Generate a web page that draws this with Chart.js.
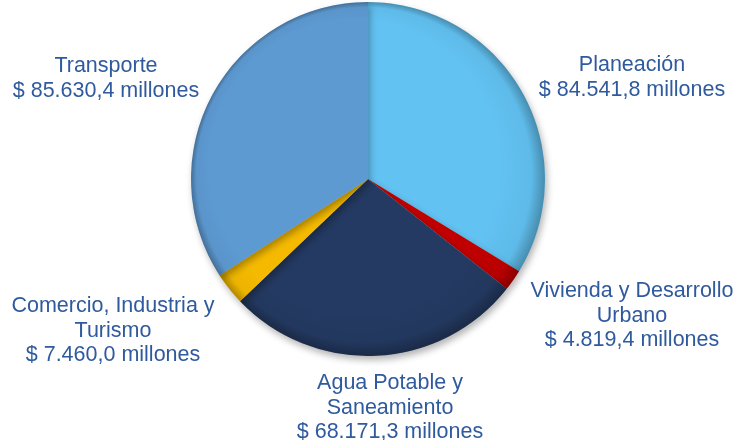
<!DOCTYPE html>
<html>
<head>
<meta charset="utf-8">
<script src="https://cdn.jsdelivr.net/npm/chart.js@4/dist/chart.umd.min.js"></script>
<style>
  html, body { margin: 0; padding: 0; background: #fff; }
  #pie { display: block; }
</style>
</head>
<body>
<canvas id="pie" width="734" height="440"></canvas>
<script>
// Datos del gráfico (millones de pesos)
const sectores = ['Planeación', 'Vivienda y Desarrollo Urbano', 'Agua Potable y Saneamiento', 'Comercio, Industria y Turismo', 'Transporte'];
const valores = [84541.8, 4819.4, 68171.3, 7460.0, 85630.4];
const etiquetas = [
    ['Planeación', '$ 84.541,8 millones'],
    ['Vivienda y Desarrollo', 'Urbano', '$ 4.819,4 millones'],
    ['Agua Potable y', 'Saneamiento', '$ 68.171,3 millones'],
    ['Comercio, Industria y', 'Turismo', '$ 7.460,0 millones'],
    ['Transporte', '$ 85.630,4 millones'],
];
const colores = ['#62C2F2', '#C00000', '#243A62', '#F5BA00', '#5D9AD2'];

// posición de cada bloque de texto (centro x, línea base de la primera línea)
const posEtiquetas = [
    { x: 632, y: 71 },
    { x: 632, y: 297 },
    { x: 390, y: 389 },
    { x: 113, y: 312 },
    { x: 106, y: 72 },
];

// sombra y borde oscuro del pastel
const bordePlugin = {
    id: 'borde',
    beforeDatasetsDraw(chart) {
        const ctx = chart.ctx;
        ctx.save();
        ctx.shadowColor = 'rgba(0,0,0,0.3)';
        ctx.shadowBlur = 7;
        ctx.shadowOffsetX = 2;
        ctx.shadowOffsetY = 4;
    },
    afterDatasetsDraw(chart) {
        const ctx = chart.ctx;
        ctx.restore();
        const arc = chart.getDatasetMeta(0).data[0];
        const cx = arc.x, cy = arc.y, r = arc.outerRadius;
        ctx.save();
        const g = ctx.createRadialGradient(cx - 14, cy - 14, r * 0.82, cx, cy, r);
        g.addColorStop(0, 'rgba(0,0,0,0)');
        g.addColorStop(0.7, 'rgba(0,0,0,0.04)');
        g.addColorStop(1, 'rgba(0,0,0,0.28)');
        ctx.beginPath();
        ctx.arc(cx, cy, r, 0, Math.PI * 2);
        ctx.fillStyle = g;
        ctx.fill();
        ctx.restore();
    }
};

const textoPlugin = {
    id: 'textos',
    afterDraw(chart) {
        const ctx = chart.ctx;
        ctx.save();
        ctx.font = '21.5px "Liberation Sans", Arial, sans-serif';
        ctx.fillStyle = '#2F5A9E';
        ctx.textAlign = 'center';
        ctx.textBaseline = 'alphabetic';
        etiquetas.forEach((lineas, i) => {
            const p = posEtiquetas[i];
            lineas.forEach((linea, j) => {
                ctx.fillText(linea, p.x, p.y + j * 24.5);
            });
        });
        ctx.restore();
    }
};

const ctx = document.querySelector('#pie').getContext('2d');

const pieChart = new Chart(ctx, {
    type: 'pie',
    data: {
        labels: sectores,
        datasets: [{
            data: valores,
            backgroundColor: colores,
            borderWidth: 0,
        }],
    },
    options: {
        responsive: false,
        animation: false,
        layout: {
            padding: { top: 2, bottom: 84, left: 191, right: 189 },
        },
        plugins: {
            legend: { display: false },
            tooltip: { enabled: false },
        },
    },
    plugins: [bordePlugin, textoPlugin],
});
</script>
</body>
</html>
